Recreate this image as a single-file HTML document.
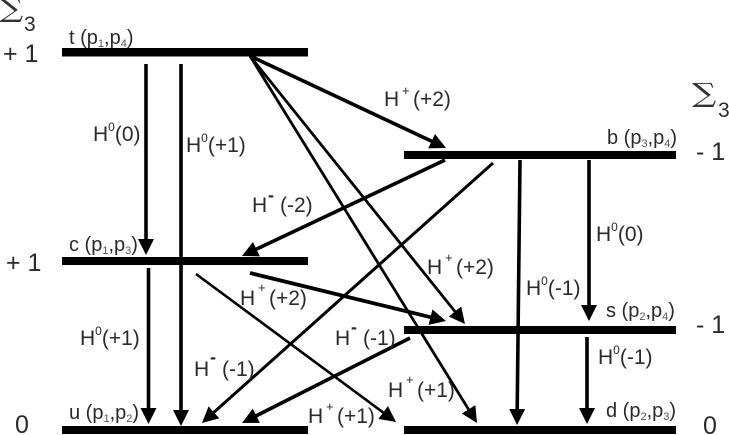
<!DOCTYPE html>
<html><head><meta charset="utf-8">
<style>
html,body{margin:0;padding:0;background:#fff;width:729px;height:435px;overflow:hidden}
svg{display:block;filter:blur(.35px)}
text{font-family:"Liberation Sans",sans-serif;fill:#2a2a2a}
.s{font-size:20px}
.b{font-size:25px}
.u{font-size:12px}
.m{font-size:21px}
.n{font-size:11px;fill:#555}
.p{font-size:13px}
.h{font-size:18px;font-weight:bold}
.g{font-family:"DejaVu Serif","Liberation Serif",serif;font-size:34px;fill:#333}
</style></head><body>
<svg width="729" height="435" viewBox="0 0 729 435" xmlns="http://www.w3.org/2000/svg">
<defs>
<marker id="a" markerUnits="userSpaceOnUse" markerWidth="17" markerHeight="17" refX="9" refY="8" orient="auto"><path d="M0 0L16 8L0 16z" fill="#000"/></marker>
</defs>
<g fill="#000">
<rect x="62" y="48" width="246" height="8.5"/>
<rect x="62" y="257" width="246" height="8"/>
<rect x="62" y="426" width="246" height="8"/>
<rect x="404" y="151" width="272" height="8"/>
<rect x="404" y="326" width="272" height="8"/>
<rect x="404" y="426" width="272" height="8"/>
</g>
<g fill="none" stroke="#000" stroke-width="3.6" marker-end="url(#a)">
<path d="M146 64V248"/>
<path d="M181 64V419"/>
<path d="M148.5 268V417"/>
<path d="M250 56L439.7 145"/>
<path d="M445 160L248.3 253"/>
<path d="M520 160L517.1 418"/>
<path d="M589 160V314"/>
<path d="M587 337V417"/>
<path d="M250 273L439.2 319.3" stroke-width="3.8"/>
<path d="M410 338L248.3 419.8"/>
<path d="M250 56L460.6 318.5" stroke-width="2.8"/>
<path d="M250 56L473.3 417" stroke-width="2.8"/>
<path d="M493 163L207.2 418.3" stroke-width="3"/>
<path d="M196 274L390.4 417.8" stroke-width="2.6"/>
</g>

<text class="g" transform="translate(-1,17) scale(1,.78)">∑</text><text x="24" y="31" style="font-size:21px">3</text>
<text class="g" transform="translate(692,102) scale(1,.78)">∑</text><text x="718" y="117" style="font-size:21px">3</text>

<text class="b" x="3" y="62">+ 1</text>
<text class="b" x="6" y="271">+ 1</text>
<text class="b" x="15" y="433">0</text>
<text class="b" x="696" y="160">- 1</text>
<text class="b" x="696" y="333">- 1</text>
<text class="b" x="703" y="434">0</text>

<text class="s" x="69" y="44">t (p<tspan class="n" dy="3">1</tspan><tspan dy="-3">,p</tspan><tspan class="n" dy="3">4</tspan><tspan dy="-3">)</tspan></text>
<text class="s" x="69" y="251">c (p<tspan class="n" dy="3">1</tspan><tspan dy="-3">,p</tspan><tspan class="n" dy="3">3</tspan><tspan dy="-3">)</tspan></text>
<text class="s" x="69" y="419">u (p<tspan class="n" dy="3">1</tspan><tspan dy="-3">,p</tspan><tspan class="n" dy="3">2</tspan><tspan dy="-3">)</tspan></text>
<text class="s" x="607" y="144">b (p<tspan class="n" dy="3">3</tspan><tspan dy="-3">,p</tspan><tspan class="n" dy="3">4</tspan><tspan dy="-3">)</tspan></text>
<text class="s" x="606" y="317">s (p<tspan class="n" dy="3">2</tspan><tspan dy="-3">,p</tspan><tspan class="n" dy="3">4</tspan><tspan dy="-3">)</tspan></text>
<text class="s" x="606" y="417">d (p<tspan class="n" dy="3">2</tspan><tspan dy="-3">,p</tspan><tspan class="n" dy="3">3</tspan><tspan dy="-3">)</tspan></text>

<text class="m" x="93" y="141">H<tspan class="u" dy="-10">0</tspan><tspan dy="10">(0)</tspan></text>
<text class="m" x="186" y="152">H<tspan class="u" dy="-10">0</tspan><tspan dy="10">(+1)</tspan></text>
<text class="m" x="80" y="345">H<tspan class="u" dy="-10">0</tspan><tspan dy="10">(+1)</tspan></text>
<text class="m" x="596" y="241">H<tspan class="u" dy="-10">0</tspan><tspan dy="10">(0)</tspan></text>
<text class="m" x="526" y="295">H<tspan class="u" dy="-10">0</tspan><tspan dy="10">(-1)</tspan></text>
<text class="m" x="598" y="364">H<tspan class="u" dy="-10">0</tspan><tspan dy="10">(-1)</tspan></text>

<text class="m" x="384" y="106">H</text><text class="p" x="402" y="95">+</text><text class="m" x="413" y="106">(+2)</text>
<text class="m" x="427" y="274">H</text><text class="p" x="445" y="262">+</text><text class="m" x="456" y="274">(+2)</text>
<text class="m" x="240" y="305">H</text><text class="p" x="258" y="292">+</text><text class="m" x="269" y="305">(+2)</text>
<text class="m" x="388" y="397">H</text><text class="p" x="406" y="384">+</text><text class="m" x="417" y="397">(+1)</text>
<text class="m" x="308" y="423">H</text><text class="p" x="326" y="411">+</text><text class="m" x="337" y="423">(+1)</text>

<text class="m" x="252" y="212">H</text><text class="h" x="268" y="201">-</text><text class="m" x="280" y="212">(-2)</text>
<text class="m" x="194" y="376">H</text><text class="h" x="210" y="363">-</text><text class="m" x="222" y="376">(-1)</text>
<text class="m" x="335" y="345">H</text><text class="h" x="351" y="333">-</text><text class="m" x="363" y="345">(-1)</text>
</svg>
</body></html>
